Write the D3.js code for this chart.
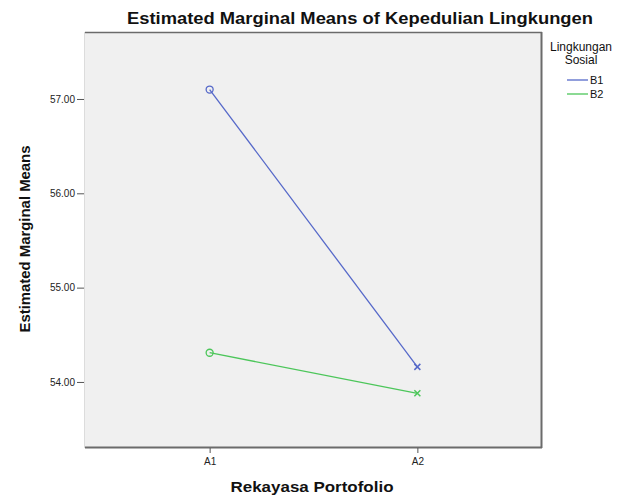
<!DOCTYPE html>
<html>
<head>
<meta charset="utf-8">
<script src="https://cdn.jsdelivr.net/npm/d3@7"></script>
<style>
  body { margin: 0; background: #fff; }
  svg { display: block; font-family: "Liberation Sans", Arial, sans-serif; }
</style>
</head>
<body>
<svg id="chart" width="636" height="497"></svg>
<script>
const categories = ["A1", "A2"];
const seriesNames = ["B1", "B2"];
const seriesB1 = [57.10, 54.16];
const seriesB2 = [54.31, 53.88];
const yTicks = [54, 55, 56, 57];
const colors = ["#5669c9", "#4cc65a"];

const svg = d3.select("#chart");
const pLeft = 85, pRight = 542, pTop = 32, pBottom = 448;

const x = d3.scalePoint().domain(categories).range([pLeft, pRight]).padding(0.6);
const y = d3.scaleLinear().domain([53.3, 57.71]).range([pBottom, pTop]);

// plot background
svg.append("rect").attr("x", pLeft).attr("y", pTop)
  .attr("width", pRight - pLeft).attr("height", pBottom - pTop)
  .attr("fill", "#f0f0f0");

// frame
svg.append("line").attr("x1", pLeft).attr("x2", pRight).attr("y1", pTop + 0.5).attr("y2", pTop + 0.5)
  .attr("stroke", "#6b6b6b").attr("stroke-width", 1.5);
svg.append("line").attr("x1", pRight - 0.5).attr("x2", pRight - 0.5).attr("y1", pTop).attr("y2", pBottom)
  .attr("stroke", "#6b6b6b").attr("stroke-width", 2);
svg.append("line").attr("x1", pLeft).attr("x2", pRight).attr("y1", pBottom - 0.5).attr("y2", pBottom - 0.5)
  .attr("stroke", "#6b6b6b").attr("stroke-width", 2);
svg.append("line").attr("x1", pLeft - 0.5).attr("x2", pLeft - 0.5).attr("y1", pTop).attr("y2", pBottom)
  .attr("stroke", "#dcdcdc").attr("stroke-width", 1);

// y axis
const yAxis = d3.axisLeft(y).tickValues(yTicks).tickFormat(d3.format(".2f")).tickSize(7).tickPadding(2);
const gy = svg.append("g").attr("transform", `translate(${pLeft - 1},0)`).call(yAxis);
gy.select(".domain").remove();
gy.selectAll(".tick line").attr("stroke", "#555");
gy.selectAll("text").attr("font-size", 10).attr("fill", "#222")
  .attr("font-family", "Liberation Sans, Arial, sans-serif");

// x axis
const xAxis = d3.axisBottom(x).tickSize(5).tickPadding(5);
const gx = svg.append("g").attr("transform", `translate(0,${pBottom})`).call(xAxis);
gx.select(".domain").remove();
gx.selectAll(".tick line").attr("stroke", "#555");
gx.selectAll("text").attr("font-size", 10).attr("fill", "#222")
  .attr("font-family", "Liberation Sans, Arial, sans-serif");

// lines
const series = [seriesB1, seriesB2];
const line = d3.line().x((d, i) => x(categories[i])).y(d => y(d));
series.forEach((vals, s) => {
  svg.append("path").datum(vals).attr("d", line)
    .attr("fill", "none").attr("stroke", colors[s]).attr("stroke-width", 1.3);
  svg.append("circle").attr("cx", x(categories[0])).attr("cy", y(vals[0])).attr("r", 3.5)
    .attr("fill", "none").attr("stroke", colors[s]).attr("stroke-width", 1.3);
  const cx = x(categories[1]), cy = y(vals[1]), k = 3;
  svg.append("path")
    .attr("d", `M${cx - k},${cy - k}L${cx + k},${cy + k}M${cx - k},${cy + k}L${cx + k},${cy - k}`)
    .attr("stroke", colors[s]).attr("stroke-width", 1.5).attr("fill", "none");
});

// title
svg.append("text").attr("x", 360).attr("y", 24).attr("text-anchor", "middle")
  .attr("font-size", 17).attr("font-weight", "bold").attr("fill", "#111")
  .attr("textLength", 466).attr("lengthAdjust", "spacingAndGlyphs")
  .text("Estimated Marginal Means of Kepedulian Lingkungen");

// axis titles
svg.append("text").attr("x", 312).attr("y", 492).attr("text-anchor", "middle")
  .attr("font-size", 15).attr("font-weight", "bold").attr("fill", "#111")
  .attr("textLength", 163).attr("lengthAdjust", "spacingAndGlyphs")
  .text("Rekayasa Portofolio");
svg.append("text").attr("transform", "translate(30,239) rotate(-90)").attr("text-anchor", "middle")
  .attr("font-size", 14.5).attr("font-weight", "bold").attr("fill", "#111")
  .attr("textLength", 187).attr("lengthAdjust", "spacingAndGlyphs")
  .text("Estimated Marginal Means");

// legend
const lg = svg.append("g");
lg.append("text").attr("x", 581).attr("y", 51).attr("text-anchor", "middle")
  .attr("font-size", 12).attr("fill", "#111").text("Lingkungan");
lg.append("text").attr("x", 581).attr("y", 64).attr("text-anchor", "middle")
  .attr("font-size", 12).attr("fill", "#111").text("Sosial");
seriesNames.forEach((n, i) => {
  const ly = 80 + i * 14;
  lg.append("line").attr("x1", 567).attr("x2", 588).attr("y1", ly).attr("y2", ly)
    .attr("stroke", colors[i]).attr("stroke-width", 1.3);
  lg.append("text").attr("x", 590).attr("y", ly + 4).attr("font-size", 11).attr("fill", "#111").text(n);
});
</script>
</body>
</html>
